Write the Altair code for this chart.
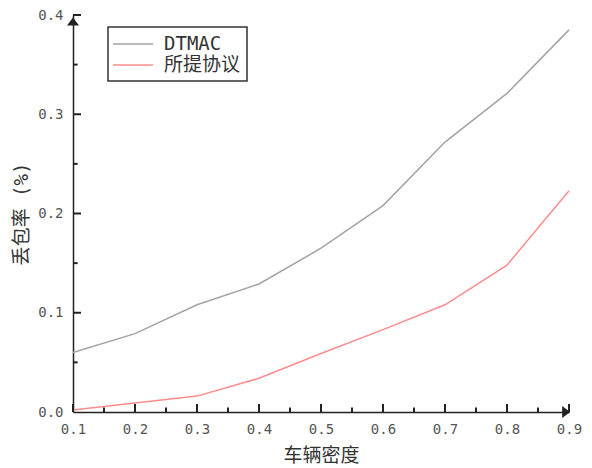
import altair as alt
import pandas as pd

# ---- data ----
density = [0.1, 0.2, 0.3, 0.4, 0.5, 0.6, 0.7, 0.8, 0.9]
dtmac = [0.060, 0.079, 0.108, 0.129, 0.165, 0.208, 0.272, 0.321, 0.385]
proposed = [0.002, 0.009, 0.016, 0.034, 0.059, 0.083, 0.108, 0.148, 0.223]
series_names = ["DTMAC", "所提协议"]
series_colors = ["#a3a3a3", "#ff8c8c"]

x_major = [0.1, 0.2, 0.3, 0.4, 0.5, 0.6, 0.7, 0.8, 0.9]
x_minor = [0.15, 0.25, 0.35, 0.45, 0.55, 0.65, 0.75, 0.85]
y_labels = [0.0, 0.1, 0.2, 0.3, 0.4]
y_major = [0.1, 0.2, 0.3, 0.4]
y_minor = [0.05, 0.15, 0.25, 0.35]
x_domain = [0.1, 0.9]
y_domain = [0.0, 0.4]

x_title = "车辆密度"
y_title = "丢包率 (%)"

W, H = 496, 397

df = pd.DataFrame({
    "density": density + density,
    "loss": dtmac + proposed,
    "series": [series_names[0]] * len(density) + [series_names[1]] * len(density),
})

FONT = "DejaVu Sans Mono, Noto Sans CJK SC"
AXIS_COLOR = "#222222"

xs = alt.Scale(domain=x_domain, nice=False, zero=False)
ys = alt.Scale(domain=y_domain, nice=False, zero=False)

lines = alt.Chart(df).mark_line(strokeWidth=1.5).encode(
    x=alt.X("density:Q", scale=xs, axis=alt.Axis(
        values=x_major, format=".1f", orient="bottom", ticks=False, grid=False,
        domainColor=AXIS_COLOR, domainWidth=1.5,
        labelFont=FONT, labelFontSize=14, labelColor="#555555", labelPadding=10,
        labelFlush=False, labelOverlap=False,
        title=x_title, titleFont=FONT, titleFontSize=19, titleFontWeight="normal",
        titleColor="#333333", titlePadding=10)),
    y=alt.Y("loss:Q", scale=ys, axis=alt.Axis(
        values=y_labels, format=".1f", orient="left", ticks=False, grid=False,
        domainColor=AXIS_COLOR, domainWidth=1.5,
        labelFont=FONT, labelFontSize=14, labelColor="#555555", labelPadding=10,
        labelFlush=False, labelOverlap=False,
        title=y_title, titleFont=FONT, titleFontSize=19, titleFontWeight="normal",
        titleColor="#333333", titlePadding=6)),
    color=alt.Color("series:N", scale=alt.Scale(domain=series_names, range=series_colors),
                    legend=alt.Legend(
                        title=None, orient="none", legendX=35, legendY=12,
                        symbolType="M-2,0H2", symbolSize=400, symbolStrokeWidth=1.5,
                        symbolOffset=8, labelOffset=20,
                        labelFont=FONT, labelFontSize=19, labelColor="#333333",
                        padding=6, rowPadding=0,
                        strokeColor="#333333", fillColor="white")),
)

# axis decorations (inward ticks + end arrows) as filled symbols placed through the scales
# symbol size 64 -> unit of 4 px in the paths below
ARROW_UP = "M0,0.6L-1.5,2.6L1.5,2.6Z"
ARROW_RIGHT = "M0.3,0L-1.7,-1.5L-1.7,1.5Z"
TICK_UP_MAJOR = "M-0.25,0L0.25,0L0.25,-2L-0.25,-2Z"
TICK_UP_MINOR = "M-0.25,0L0.25,0L0.25,-1.15L-0.25,-1.15Z"
TICK_RIGHT_MAJOR = "M0,-0.25L2,-0.25L2,0.25L0,0.25Z"
TICK_RIGHT_MINOR = "M0,-0.25L1.15,-0.25L1.15,0.25L0,0.25Z"

guide_df = pd.DataFrame({
    "density": ([x_domain[0], x_domain[1]] + x_major + x_minor
                + [x_domain[0]] * (len(y_major) + len(y_minor))),
    "loss": ([y_domain[1], y_domain[0]] + [y_domain[0]] * (len(x_major) + len(x_minor))
             + y_major + y_minor),
    "shape": ([ARROW_UP, ARROW_RIGHT] + [TICK_UP_MAJOR] * len(x_major)
              + [TICK_UP_MINOR] * len(x_minor) + [TICK_RIGHT_MAJOR] * len(y_major)
              + [TICK_RIGHT_MINOR] * len(y_minor)),
})

guides = alt.Chart(guide_df).mark_point(filled=True, opacity=1, color="#222222", size=64).encode(
    x=alt.X("density:Q", scale=xs, axis=None),
    y=alt.Y("loss:Q", scale=ys, axis=None),
    shape=alt.Shape("shape:N", scale=None),
)

chart = alt.layer(lines, guides).resolve_axis(
    x="independent", y="independent"
).properties(
    width=W, height=H,
    autosize=alt.AutoSizeParams(type="none"),
    padding={"left": 73, "top": 15, "right": 23, "bottom": 56},
).configure_view(stroke=None).configure_legend(strokeWidth=1.5)

chart.save("out.html", embed_options={"renderer": "svg", "actions": False})
